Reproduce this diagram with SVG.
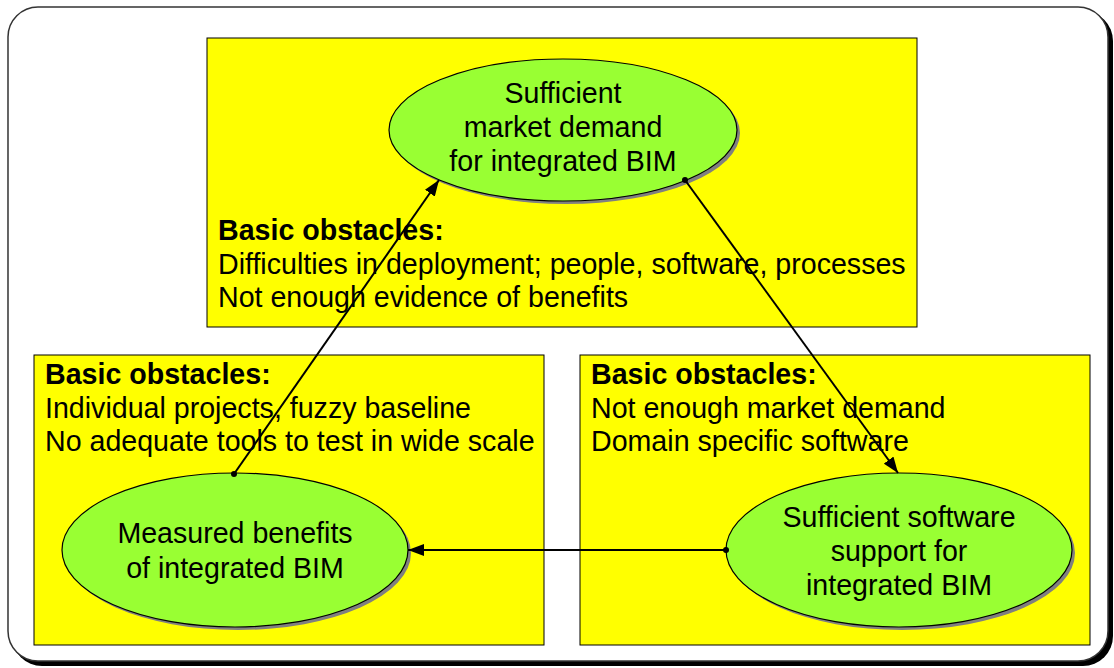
<svg xmlns="http://www.w3.org/2000/svg" width="1114" height="668" viewBox="0 0 1114 668">
<defs>
<style>
.box{fill:#ffff00;stroke:#000;stroke-width:1}
.ell{fill:#99ff33;stroke:#000;stroke-width:1.2}
.sh{fill:#808080}
.t{font-family:"Liberation Sans",Arial,sans-serif;font-size:28.6px;fill:#000}
.b{font-weight:bold}
.c{text-anchor:middle}
.con{stroke:#000;stroke-width:2;fill:none}
</style>
<marker id="ah" viewBox="0 0 16 12" refX="16" refY="6" markerWidth="16" markerHeight="12" markerUnits="userSpaceOnUse" orient="auto"><path d="M0,0 L16,6 L0,12 z" fill="#000"/></marker>
<marker id="dot" viewBox="0 0 6 6" refX="3" refY="3" markerWidth="6" markerHeight="6" markerUnits="userSpaceOnUse"><circle cx="3" cy="3" r="3" fill="#000"/></marker>
</defs>
<rect x="12" y="11" width="1101" height="655" rx="30" fill="#000"/>
<rect x="8" y="7" width="1100" height="654" rx="30" fill="#fff" stroke="#333" stroke-width="1.5"/>
<g id="box-top"><rect class="box" x="207" y="38" width="710" height="289"/>
<text class="t b" x="218" y="240">Basic obstacles:</text>
<text class="t" x="218" y="274">Difficulties in deployment; people, software, processes</text>
<text class="t" x="218" y="307">Not enough evidence of benefits</text></g>
<g id="box-left"><rect class="box" x="34" y="355" width="510" height="290"/>
<text class="t b" x="45" y="384">Basic obstacles:</text>
<text class="t" x="45" y="418">Individual projects, fuzzy baseline</text>
<text class="t" x="45" y="451">No adequate tools to test in wide scale</text></g>
<g id="box-right"><rect class="box" x="580" y="355" width="510" height="290"/>
<text class="t b" x="591" y="384">Basic obstacles:</text>
<text class="t" x="591" y="418">Not enough market demand</text>
<text class="t" x="591" y="451">Domain specific software</text></g>
<g id="node-demand"><ellipse class="sh" cx="566" cy="133" rx="174" ry="71"/><ellipse class="ell" cx="563" cy="130" rx="174" ry="71"/>
<text class="t c" x="563" y="103">Sufficient</text>
<text class="t c" x="563" y="137">market demand</text>
<text class="t c" x="563" y="171">for integrated BIM</text></g>
<g id="node-benefits"><ellipse class="sh" cx="238" cy="553" rx="173" ry="77"/><ellipse class="ell" cx="235" cy="550" rx="173" ry="77"/>
<text class="t c" x="235" y="543">Measured benefits</text>
<text class="t c" x="235" y="578">of integrated BIM</text></g>
<g id="node-software"><ellipse class="sh" cx="902" cy="553" rx="173" ry="77"/><ellipse class="ell" cx="899" cy="550" rx="173" ry="77"/>
<text class="t c" x="899" y="527">Sufficient software</text>
<text class="t c" x="899" y="561">support for</text>
<text class="t c" x="899" y="595">integrated BIM</text></g>
<g id="connectors">
<line class="con" x1="234" y1="474" x2="439" y2="180" marker-start="url(#dot)" marker-end="url(#ah)"/>
<line class="con" x1="685" y1="180" x2="898" y2="473" marker-start="url(#dot)" marker-end="url(#ah)"/>
<line class="con" x1="726" y1="550" x2="408" y2="550" marker-start="url(#dot)" marker-end="url(#ah)"/>
</g>
</svg>
